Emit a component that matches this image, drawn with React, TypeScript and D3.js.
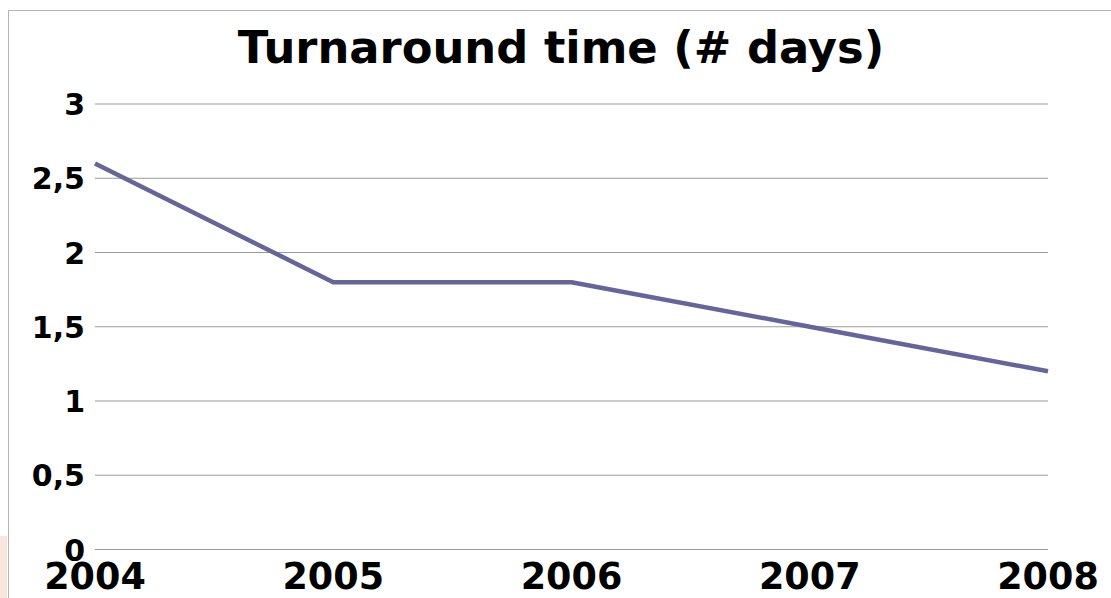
import React from "react";
import * as d3 from "d3";

const years = ["2004", "2005", "2006", "2007", "2008"];
const values = [2.6, 1.8, 1.8, 1.5, 1.2];
const yTicks = [0, 0.5, 1, 1.5, 2, 2.5, 3];
const title = "Turnaround time (# days)";

export default function App() {
  const W = 1111, H = 598;
  const x = d3.scalePoint<string>().domain(years).range([95, 1048]);
  const y = d3.scaleLinear().domain([0, 3]).range([549.5, 104]);
  const line = d3
    .line<number>()
    .x((_, i) => x(years[i]) as number)
    .y((d) => y(d));
  const fmt = (v: number) => String(v).replace(".", ",");
  const font = "'DejaVu Sans', sans-serif";
  return (
    <svg
      width={W}
      height={H}
      style={{ position: "fixed", left: 0, top: 0, background: "#fff" }}
      fontFamily={font}
    >
      <rect x={0} y={536} width={7} height={62} fill="#f9e6dc" />
      <rect x={8.5} y={10.5} width={1120} height={620} fill="#fff" stroke="#b4b4b4" strokeWidth={1} />
      <text x={561} y={63} textAnchor="middle" fontSize={44.8} fontWeight="bold" fill="#000">
        {title}
      </text>
      {yTicks.map((t) => (
        <g key={t}>
          <line x1={95} x2={1048} y1={y(t)} y2={y(t)} stroke="#9a9a9a" strokeWidth={1.2} />
          <text x={85} y={y(t) + 11} textAnchor="end" fontSize={30} fontWeight="bold" fill="#000">
            {fmt(t)}
          </text>
        </g>
      ))}
      {years.map((yr) => (
        <text key={yr} x={x(yr)} y={589} textAnchor="middle" fontSize={36.5} fontWeight="bold" fill="#000">
          {yr}
        </text>
      ))}
      <path d={line(values) || ""} fill="none" stroke="#65659b" strokeWidth={4.5} strokeLinejoin="round" />
    </svg>
  );
}
